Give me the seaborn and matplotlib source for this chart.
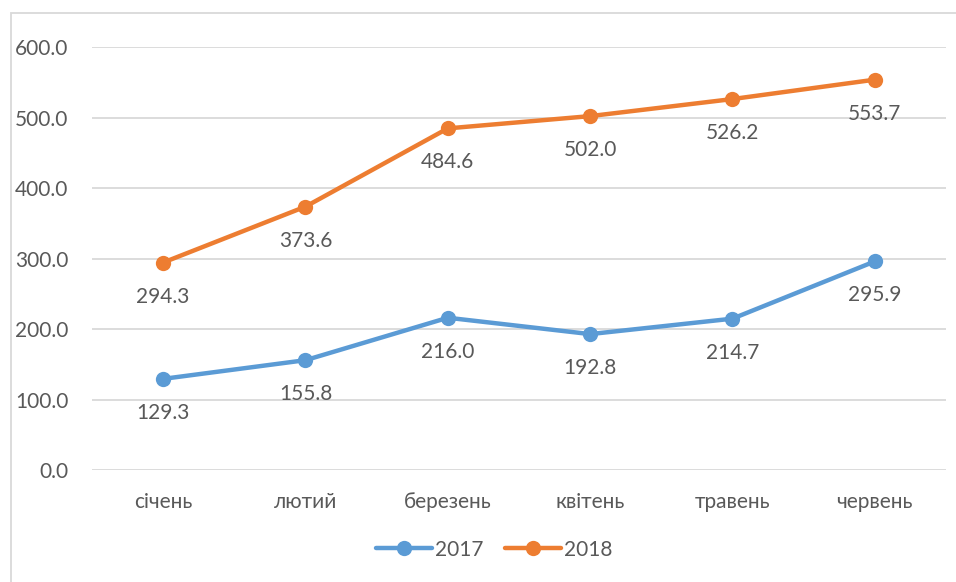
import pandas as pd
import matplotlib.pyplot as plt
import seaborn as sns
from matplotlib.patches import Rectangle

# Data
months = ["січень", "лютий", "березень", "квітень", "травень", "червень"]
values_2017 = [129.3, 155.8, 216.0, 192.8, 214.7, 295.9]
values_2018 = [294.3, 373.6, 484.6, 502.0, 526.2, 553.7]
years = ["2017", "2018"]
colors = ["#5B9BD5", "#ED7D31"]

df = pd.DataFrame({
    "month": months * 2,
    "value": values_2017 + values_2018,
    "year": [years[0]] * 6 + [years[1]] * 6,
})

sns.set_style("white")
plt.rcParams["font.family"] = ["Lato", "DejaVu Sans"]
text_color = "#595959"
fs = 15

fig = plt.figure(figsize=(9.56, 5.82), dpi=100)
ax = fig.add_axes([0.0962, 0.1924, 0.8933, 0.7268])

sns.lineplot(data=df, x="month", y="value", hue="year", palette=colors,
             marker="o", markersize=11, linewidth=3.2, markeredgewidth=0,
             sort=False, ax=ax)

# data labels below points
for vals in [values_2017, values_2018]:
    for i, v in enumerate(vals):
        ax.annotate(f"{v:.1f}", (i, v), xytext=(0, -24.5), textcoords="offset points",
                    ha="center", va="center", fontsize=fs, color=text_color)

ax.set_xlim(-0.5, 5.5)
ax.set_ylim(0, 600)
ax.set_yticks(range(0, 601, 100))
ax.set_yticklabels([f"{t:.1f}" for t in range(0, 601, 100)])
ax.grid(axis="y", color="#D9D9D9", linewidth=1.3)
ax.set_axisbelow(True)
for s in ax.spines.values():
    s.set_visible(False)
ax.tick_params(axis="both", length=0, labelsize=fs, labelcolor=text_color)
ax.tick_params(axis="y", pad=17)
ax.tick_params(axis="x", pad=16)
ax.set_xlabel("")
ax.set_ylabel("")

leg = ax.legend(loc="upper center", bbox_to_anchor=(0.471, -0.12), ncol=2,
                frameon=False, fontsize=fs, handlelength=2.7, columnspacing=1.0,
                handletextpad=0.15)
for t in leg.get_texts():
    t.set_color(text_color)

# outer chart frame (cut at right and bottom in the reference)
fig.patches.append(Rectangle((11 / 956, -0.05), 1.0, 1 - 13 / 582 + 0.05,
                             transform=fig.transFigure, fill=False,
                             edgecolor="#D9D9D9", linewidth=1.3))

fig.savefig("out.png", dpi=100)
